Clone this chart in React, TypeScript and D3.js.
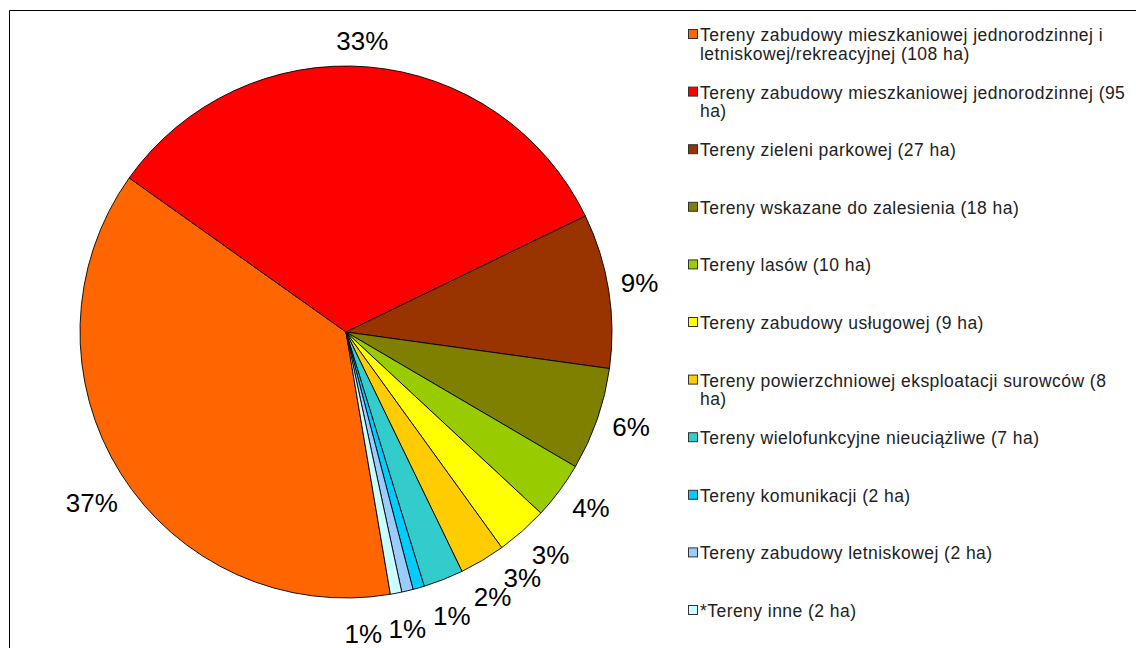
import React, { useMemo } from "react";
import * as d3 from "d3";

const categories = [
  "Tereny zabudowy mieszkaniowej jednorodzinnej i\nletniskowej/rekreacyjnej (108 ha)",
  "Tereny zabudowy mieszkaniowej jednorodzinnej (95\nha)",
  "Tereny zieleni parkowej (27 ha)",
  "Tereny wskazane do zalesienia (18 ha)",
  "Tereny lasów (10 ha)",
  "Tereny zabudowy usługowej (9 ha)",
  "Tereny powierzchniowej eksploatacji surowców (8\nha)",
  "Tereny wielofunkcyjne nieuciążliwe (7 ha)",
  "Tereny komunikacji (2 ha)",
  "Tereny zabudowy letniskowej (2 ha)",
  "*Tereny inne (2 ha)",
];
const values = [108, 95, 27, 18, 10, 9, 8, 7, 2, 2, 2];
const pctLabels = ["37%", "33%", "9%", "6%", "4%", "3%", "3%", "2%", "1%", "1%", "1%"];
const colors = [
  "#FF6600", "#FF0000", "#993300", "#808000", "#99CC00", "#FFFF00",
  "#FFCC00", "#33CCCC", "#00CCFF", "#99CCFF", "#CCFFFF",
];

const W = 1136;
const H = 648;
const CX = 346;
const CY = 332;
const R = 266;
const START = (170.4 * Math.PI) / 180;
const FONT = "Arial, 'Liberation Sans', Helvetica, sans-serif";
const LABEL_SIZE = 26;

export default function App() {
  const arcs = useMemo(() => {
    const pie = d3
      .pie<number>()
      .sort(null)
      .value((d) => d)
      .startAngle(START)
      .endAngle(START + 2 * Math.PI);
    return pie(values);
  }, []);

  const arcGen = d3.arc<d3.PieArcDatum<number>>().innerRadius(0).outerRadius(R);

  const labels = useMemo(() => {
    const items = arcs.map((a, i) => {
      const txt = pctLabels[i];
      const w = LABEL_SIZE * (0.556 * (txt.length - 1) + 0.889);
      return { ang: (a.startAngle + a.endAngle) / 2 - 0.03, w, h: 18, txt };
    });
    const base = items.map((it) => it.ang);
    const pos = (it: { ang: number; w: number; h: number }) => {
      const ux = Math.sin(it.ang);
      const uy = -Math.cos(it.ang);
      return {
        x: CX + ux * (R + 14) + (ux * it.w) / 2,
        y: Math.min(CY + uy * (R + 16) + uy * 15 + 6, 636),
      };
    };
    const overlaps = (a: typeof items[0], b: typeof items[0]) => {
      const pa = pos(a);
      const pb = pos(b);
      const ox = (a.w + b.w) / 2 + 6 - Math.abs(pa.x - pb.x);
      const oy = (a.h + b.h) / 2 + 1 - Math.abs(pa.y - pb.y);
      return ox > 0 && oy > 0;
    };
    const step = (0.2 * Math.PI) / 180;
    // forward sweep: push each label clockwise until it clears the previous one
    for (let i = 1; i < items.length; i++) {
      let guard = 0;
      while (overlaps(items[i - 1], items[i]) && guard < 400) {
        items[i].ang += step;
        guard++;
      }
    }
    // pull the pushed cluster partly back, then resolve backwards
    const last = items.length - 1;
    const excess = items[last].ang - base[last];
    for (let i = 1; i < items.length; i++) {
      if (items[i].ang > base[i] + 1e-6) items[i].ang -= excess * 0.4;
    }
    for (let i = last - 1; i >= 1; i--) {
      let guard = 0;
      while (overlaps(items[i], items[i + 1]) && guard < 400) {
        items[i].ang -= step;
        guard++;
      }
    }
    return items.map((it) => ({ ...pos(it), txt: it.txt }));
  }, [arcs]);

  const legendTop = 41;
  const legendStep = 57.6;

  return (
    <svg
      width={W}
      height={H}
      style={{ position: "fixed", left: 0, top: 0, background: "#fff" }}
      fontFamily={FONT}
    >
      <rect x={0} y={0} width={W} height={H} fill="#fff" />
      <line x1={9.5} y1={10.5} x2={W} y2={10.5} stroke="#000" strokeWidth={1} />
      <line x1={9.5} y1={10.5} x2={9.5} y2={H} stroke="#000" strokeWidth={1} />
      <g>
        {arcs.map((a, i) => (
          <path
            key={i}
            d={arcGen(a) || ""}
            transform={`translate(${CX},${CY})`}
            fill={colors[i]}
            stroke="#000"
            strokeWidth={0.9}
            strokeLinejoin="round"
          />
        ))}
      </g>
      <g fontSize={LABEL_SIZE} fill="#000">
        {labels.map((l, i) => (
          <text key={i} x={l.x} y={l.y + 9} textAnchor="middle">
            {l.txt}
          </text>
        ))}
      </g>
      <g fontSize={17.5} letterSpacing={0.45} fill="#222">
        {categories.map((c, i) => {
          const y = legendTop + i * legendStep;
          const lines = c.split("\n");
          return (
            <g key={i}>
              <rect
                x={688.5}
                y={y - 11.5}
                width={9}
                height={9}
                fill={colors[i]}
                stroke="#333"
                strokeWidth={1}
              />
              <text x={700} y={y}>
                {lines.map((ln, k) => (
                  <tspan key={k} x={700} dy={k === 0 ? 0 : 18.5}>
                    {ln}
                  </tspan>
                ))}
              </text>
            </g>
          );
        })}
      </g>
    </svg>
  );
}
